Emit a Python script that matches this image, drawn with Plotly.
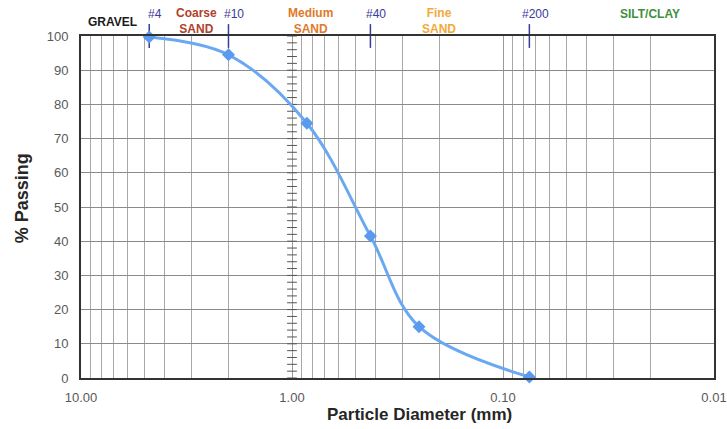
import math
import plotly.graph_objects as go

# Data
diameter_mm = [4.75, 2.0, 0.85, 0.425, 0.25, 0.075]
percent_passing = [99.7, 94.5, 74.5, 41.5, 15.0, 0.3]

sieve_labels = ["#4", "#10", "#40", "#200"]
sieve_sizes = [4.75, 2.0, 0.425, 0.075]

zone_labels = ["GRAVEL", "Coarse<br>SAND", "Medium<br>SAND", "Fine<br>SAND", "SILT/CLAY"]
zone_centers = [7.1, 2.85, 0.82, 0.2, 0.02]
zone_colors = ["#1a1a1a", "#b0402a", "#e07a2a", "#f2a93b", "#3f8f3f"]
zone_two_line = [False, True, True, True, False]

x_major = [10, 1, 0.1, 0.01]
x_major_text = ["10.00", "1.00", "0.10", "0.01"]
x_minor = [m * d for d in [1, 0.1, 0.01] for m in range(2, 10)]
y_ticks = list(range(0, 101, 10))
y_minor_marks = list(range(0, 101, 2))

fig = go.Figure()

# scale marks on the 1.00 line
fig.add_trace(go.Scatter(
    x=[1] * len(y_minor_marks), y=y_minor_marks, mode="markers",
    marker=dict(symbol="line-ew", size=7, line=dict(width=1, color="#555555")),
    hoverinfo="skip", showlegend=False, cliponaxis=False))

# sieve marks across top border
fig.add_trace(go.Scatter(
    x=sieve_sizes, y=[100] * len(sieve_sizes), mode="markers",
    marker=dict(symbol="line-ns", size=17, line=dict(width=1.5, color="#3a3a9a")),
    hoverinfo="skip", showlegend=False, cliponaxis=False))

fig.add_trace(go.Scatter(
    x=diameter_mm, y=percent_passing, mode="lines+markers",
    line=dict(shape="spline", smoothing=1.0, color="#6aa8f2", width=3),
    marker=dict(symbol="diamond", size=10, color="#5b9bef"),
    showlegend=False, cliponaxis=False))

annotations = []
for lab, s in zip(sieve_labels, sieve_sizes):
    annotations.append(dict(x=math.log10(s), y=1.064, xref="x", yref="paper",
                            text=lab, showarrow=False, xanchor="center", yanchor="middle",
                            xshift=6, font=dict(family="Liberation Sans", size=12, color="#3a3a9a")))
for lab, c, col, two in zip(zone_labels, zone_centers, zone_colors, zone_two_line):
    yv = 1.045 if two else (1.04 if lab == "GRAVEL" else 1.064)
    annotations.append(dict(x=math.log10(c), y=yv, xref="x", yref="paper",
                            text="<b>" + lab + "</b>", showarrow=False, xanchor="center",
                            yanchor="middle",
                            font=dict(family="Liberation Sans", size=12, color=col)))

# axis titles
annotations.append(dict(x=-0.093, y=0.526, xref="paper", yref="paper", textangle=-90,
                        text="<b>% Passing</b>", showarrow=False, xanchor="center", yanchor="middle",
                        font=dict(family="Liberation Sans", size=18, color="#262626")))
annotations.append(dict(x=0.535, y=-0.107, xref="paper", yref="paper",
                        text="<b>Particle Diameter (mm)</b>", showarrow=False,
                        xanchor="center", yanchor="middle",
                        font=dict(family="Liberation Sans", size=17, color="#262626")))

fig.update_layout(
    width=727, height=429,
    margin=dict(l=81, r=13, t=36, b=51),
    paper_bgcolor="white", plot_bgcolor="white",
    font=dict(family="Liberation Sans", size=13, color="#595959"),
    annotations=annotations,
    xaxis=dict(
        type="log", range=[1, -2], autorange=False, automargin=False,
        tickvals=x_major, ticktext=x_major_text,
        showgrid=True, gridcolor="#9a9a9a", gridwidth=1,
        minor=dict(tickvals=x_minor, showgrid=True, gridcolor="#a8a8a8", gridwidth=1, ticks=""),
        showline=True, linecolor="#333333", linewidth=2, mirror=True,
        ticks="", zeroline=False, ticklabelstandoff=6,
        tickfont=dict(size=13, color="#595959"),
    ),
    yaxis=dict(
        range=[0, 100], autorange=False, tickvals=y_ticks, automargin=False,
        showgrid=True, gridcolor="#8a8a8a", gridwidth=1,
        showline=True, linecolor="#333333", linewidth=2, mirror=True,
        ticks="", zeroline=False, ticklabelstandoff=8,
        tickfont=dict(size=13, color="#595959"),
    ),
)

fig.write_html("out.html")
